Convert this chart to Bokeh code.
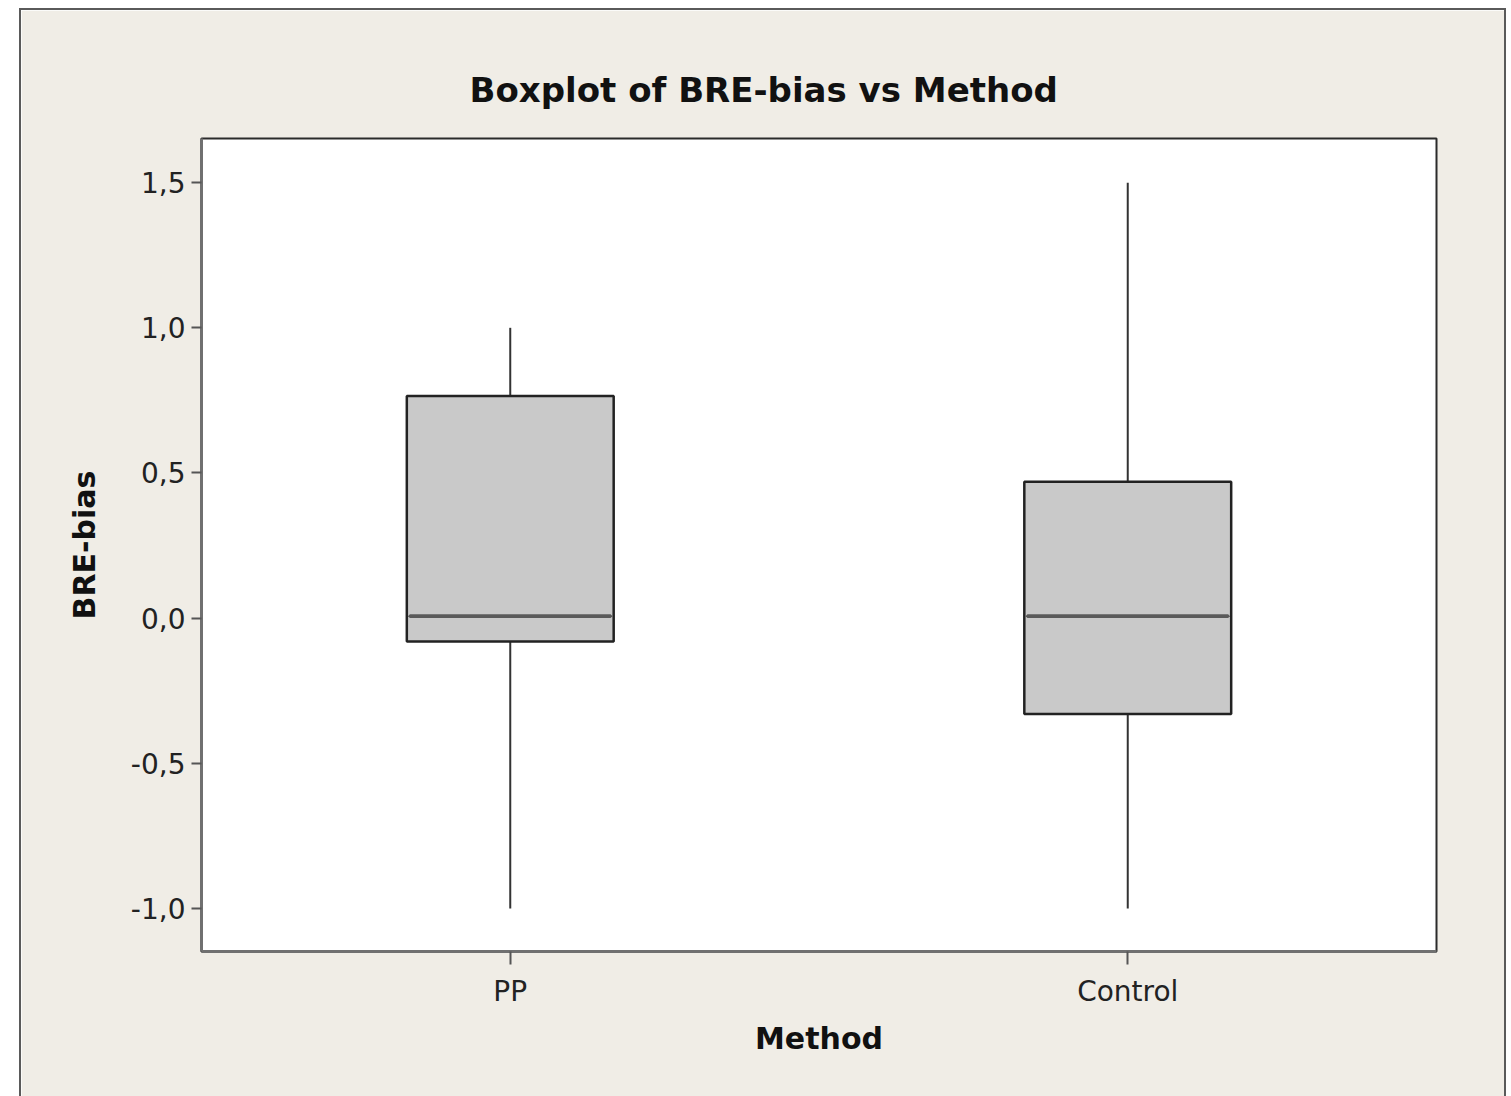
from bokeh.plotting import figure
from bokeh.models import Range1d, FixedTicker, CustomJSTickFormatter, ColumnDataSource, FactorRange
from bokeh.embed import file_html
from bokeh.resources import INLINE

# ---- data ----
methods = ["PP", "Control"]
lower_whisker = [-1.0, -1.0]
q1 = [-0.08, -0.33]
median = [0.007, 0.007]
q3 = [0.765, 0.47]
upper_whisker = [1.0, 1.5]
y_ticks = [-1.0, -0.5, 0.0, 0.5, 1.0, 1.5]

BG = "#F0EDE6"
FONT = "DejaVu Sans"

p = figure(
    x_range=FactorRange(*methods, range_padding=0),
    y_range=Range1d(-1.148, 1.652),
    width=1487, height=1088,
    output_backend="svg", toolbar_location=None,
    title="Boxplot of BRE-bias vs Method",
    min_border_left=180, min_border_right=72, min_border_top=128, min_border_bottom=147,
)
p.styles = {"margin-left": "19px", "margin-top": "8px", "border-left": "2px solid #5a5a5a",
            "border-top": "2px solid #5a5a5a", "border-right": "2px solid #5a5a5a"}

p.background_fill_color = "white"
p.border_fill_color = BG
p.outline_line_color = "#2b2b2b"
p.outline_line_width = 2
p.xgrid.visible = False
p.ygrid.visible = False

# title
p.title.text_font = FONT
p.title.text_font_size = "34px"
p.title.text_font_style = "bold"
p.title.text_color = "#111111"
p.title.align = "left"
p.title.offset = 268
p.title.standoff = 58

src = ColumnDataSource(dict(m=methods, lo=lower_whisker, q1=q1, med=median, q3=q3, hi=upper_whisker))

# whiskers
p.segment(x0="m", y0="hi", x1="m", y1="q3", source=src, line_color="#333333", line_width=2)
p.segment(x0="m", y0="lo", x1="m", y1="q1", source=src, line_color="#333333", line_width=2)
# boxes
p.vbar(x="m", top="q3", bottom="q1", width=0.335, source=src,
       fill_color="#C9C9C9", line_color="#222222", line_width=2.5)
# median
p.rect(x="m", y="med", width=0.325, height=0.001, source=src,
       fill_color="#5a5a5a", line_color="#5a5a5a", line_width=3.5)

# axes
for ax in (p.xaxis[0], p.yaxis[0]):
    ax.axis_line_color = "#707070"
    ax.axis_line_width = 3
    ax.major_tick_line_color = "#555555"
    ax.major_tick_line_width = 2
    ax.major_tick_in = 0
    ax.minor_tick_line_color = None
    ax.major_label_text_font = FONT
    ax.major_label_text_font_size = "28px"
    ax.major_label_text_color = "#222222"
    ax.axis_label_text_font = FONT
    ax.axis_label_text_font_size = "30px"
    ax.axis_label_text_font_style = "bold"
    ax.axis_label_text_color = "#111111"

p.yaxis.ticker = FixedTicker(ticks=y_ticks)
p.yaxis.formatter = CustomJSTickFormatter(code="return tick.toFixed(1).replace('.', ',');")
p.yaxis.major_tick_out = 10
p.yaxis.major_label_standoff = 6
p.yaxis.axis_label = "BRE-bias"
p.yaxis.axis_label_standoff = 26

p.xaxis.major_tick_out = 13
p.xaxis.major_label_standoff = 10
p.xaxis.axis_label = "Method"
p.xaxis.axis_label_standoff = 10

open("out.html", "w").write(file_html(p, INLINE))
